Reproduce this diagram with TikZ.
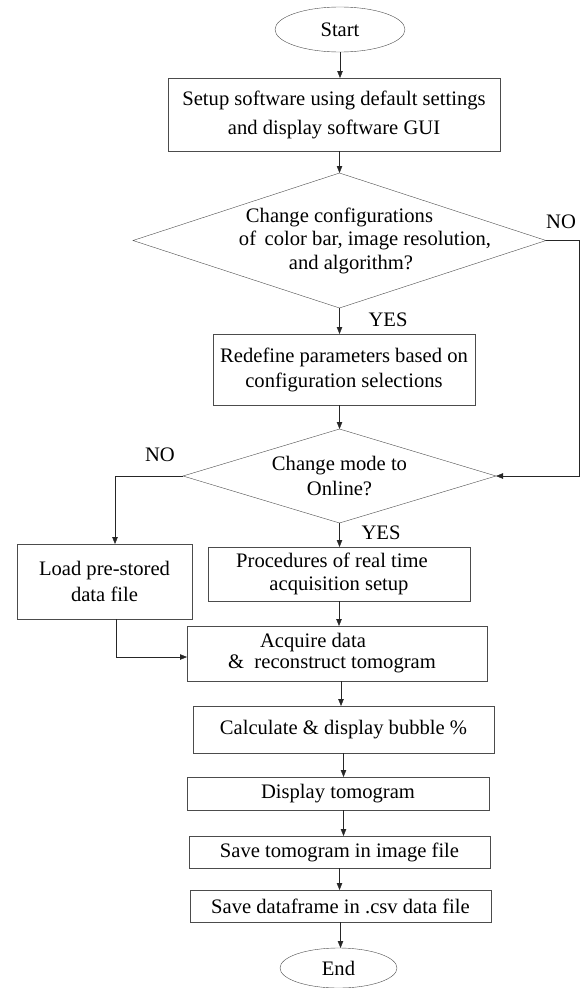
\documentclass[tikz,border=0pt]{standalone}
\usepackage{fontspec}
\setmainfont{Liberation Serif}
\usetikzlibrary{positioning, arrows.meta, shapes.geometric}
\tikzset{
	line width = .9pt,
	>={Triangle[length=7pt,width=5.5pt]},
	font = \fontsize{20.6}{23}\selectfont,
	process/.style={
		draw=black!70,
		rectangle,
		align=center,
		outer sep=0pt,
		inner sep=0pt
	},
	terminal/.style={
		draw=black!70,
		ellipse,
		outer sep=0pt,
		inner sep=0pt
	},
	decision/.style={
		draw=black!70,
		diamond,
		outer sep=0pt,
		inner sep=0pt
	},
	answer/.style={
		inner sep=0pt
	},
	edge/.style={
		->,
		draw=black!85
	}
}

\begin{document}
\begin{tikzpicture}
\useasboundingbox (0,0) rectangle (583pt,-988pt);

\node[terminal, minimum width=130pt, minimum height=45pt] (start) at (340pt,-29.5pt) {Start};
\node[process, below=26pt of start, xshift=-6pt, minimum width=332pt, minimum height=73pt,
	font=\fontsize{20.6}{29}\selectfont] (setup) {Setup software using default settings\\and display software GUI};
\node[decision, below=22pt of setup, xshift=5.5pt, minimum width=413pt, minimum height=135pt,
	label={[align=center, font=\fontsize{20.6}{23.5}\selectfont]center:Change configurations\\\hspace*{51pt}of\, color bar, image resolution,\\\hspace*{23pt}and algorithm?}] (q1) {};
\node[process, below=26pt of q1, xshift=4.5pt, minimum width=262pt, minimum height=71pt,
	font=\fontsize{20.6}{25}\selectfont] (redef) {Redefine parameters based on\\configuration selections};
\node[decision, below=24pt of redef, xshift=-4.5pt, minimum width=313pt, minimum height=94pt,
	label={[align=center, font=\fontsize{20.6}{25}\selectfont]center:Change mode to\\Online?}] (q2) {};
\node[process, below=24pt of q2, xshift=-0.5pt, minimum width=262pt, minimum height=54pt] (proc) {Procedures of real time\hspace*{14pt}\\acquisition setup};
\node[process, left=16pt of proc, yshift=-7.5pt, minimum width=175pt, minimum height=75pt,
	font=\fontsize{20.6}{26}\selectfont] (load) {Load pre-stored\\data file};
\node[process, below=25pt of proc, xshift=-2pt, minimum width=300pt, minimum height=55pt,
	font=\fontsize{20.6}{21}\selectfont] (acq) {Acquire data\hspace*{48pt}\\\&~ reconstruct tomogram\hspace*{10pt}};
\node[process, below=25pt of acq, xshift=6.5pt, minimum width=301pt, minimum height=47pt] (calc) {Calculate \& display bubble \%};
\node[process, below=24pt of calc, xshift=-5.5pt, minimum width=302pt, minimum height=33pt] (disp) {Display tomogram};
\node[process, below=26pt of disp, xshift=1.5pt, minimum width=301pt, minimum height=32pt] (saveimg) {Save tomogram in image file};
\node[process, below=22pt of saveimg, xshift=1pt, minimum width=301pt, minimum height=32pt] (savecsv) {Save dataframe in .csv data file};
\node[terminal, below=26pt of savecsv, xshift=-2pt, minimum width=117pt, minimum height=40pt] (end) {End};

\node[answer] (no1) at ([shift={(15pt,19pt)}]q1.east) {NO};
\node[answer] (yes1) at ([shift={(48.5pt,-12pt)}]q1.south) {YES};
\node[answer] (no2) at ([shift={(-23pt,21pt)}]q2.west) {NO};
\node[answer] (yes2) at ([shift={(41.5pt,-10pt)}]q2.south) {YES};

\draw[edge] (start.south) -- (start.south |- setup.north);
\draw[edge] (q1.north |- setup.south) -- (q1.north);
\draw[edge] (q1.south) -- (q1.south |- redef.north);
\draw[edge] (q2.north |- redef.south) -- (q2.north);
\draw[edge] (q1.east) -- ++(33pt,0) |- (q2.east);
\draw[edge] (q2.west) -| ([xshift=10.5pt]load.north);
\draw[edge] (q2.south) -- (q2.south |- proc.north);
\draw[edge] ([xshift=11.5pt]load.south) |- ([yshift=-3.5pt]acq.west);
\draw[edge] (proc.south) -- (proc.south |- acq.north);
\draw[edge] ([xshift=4pt]acq.south) -- ([xshift=4pt]acq.south |- calc.north);
\draw[edge] (calc.south) -- (calc.south |- disp.north);
\draw[edge] (calc.south |- disp.south) -- (calc.south |- saveimg.north);
\draw[edge] (saveimg.south) -- (saveimg.south |- savecsv.north);
\draw[edge] (savecsv.south) -- (savecsv.south |- end.north);
\end{tikzpicture}
\end{document}
